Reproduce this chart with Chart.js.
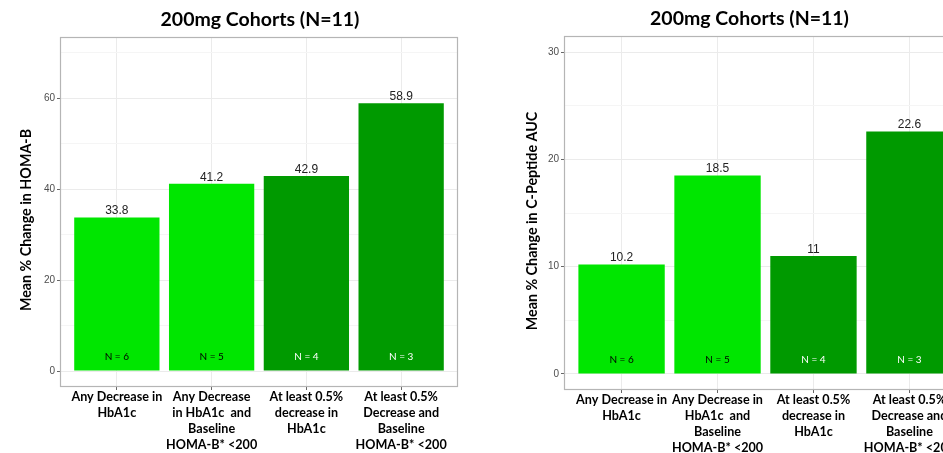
<!DOCTYPE html>
<html><head><meta charset="utf-8">
<script src="https://cdn.jsdelivr.net/npm/chart.js@4"></script>
<style>
html,body{margin:0;padding:0;background:#fff;overflow:hidden;width:943px;height:453px;}
#wrap{position:relative;width:943px;height:453px;overflow:hidden;background:#fff;}
canvas{position:absolute;top:0;}
</style></head><body>
<div id="wrap">
<canvas id="c1" width="520" height="453" style="left:0px"></canvas>
<canvas id="c2" width="559" height="453" style="left:470px"></canvas>
</div>
<script>
// ---- data ----
const chartTitle = '200mg Cohorts (N=11)';
const categories = [
  'Any Decrease in HbA1c',
  'Any Decrease in HbA1c and Baseline HOMA-B* <200',
  'At least 0.5% decrease in HbA1c',
  'At least 0.5% Decrease and Baseline HOMA-B* <200'
];
const leftTickLabels = [
  ['Any Decrease in', 'HbA1c'],
  ['Any Decrease', 'in HbA1c  and', 'Baseline', 'HOMA-B* <200'],
  ['At least 0.5%', 'decrease in', 'HbA1c'],
  ['At least 0.5%', 'Decrease and', 'Baseline', 'HOMA-B* <200']
];
const rightTickLabels = [
  ['Any Decrease in', 'HbA1c'],
  ['Any Decrease in', 'HbA1c  and', 'Baseline', 'HOMA-B* <200'],
  ['At least 0.5%', 'decrease in', 'HbA1c'],
  ['At least 0.5%', 'Decrease and', 'Baseline', 'HOMA-B* <200']
];
const homaBChange = [33.8, 41.2, 42.9, 58.9];
const cPeptideChange = [10.2, 18.5, 11, 22.6];
const nLabels = ['N = 6', 'N = 5', 'N = 4', 'N = 3'];
const leftYTicks = [0, 10, 20, 30, 40, 50, 60, 70];
const leftYMajor = 20;
const rightYTicks = [0, 5, 10, 15, 20, 25, 30];
const rightYMajor = 10;
const leftYTitle = 'Mean % Change in HOMA-B';
const rightYTitle = 'Mean % Change in C-Peptide AUC';

// ---- styles ----
const barColors = ['#00e600', '#00e600', '#009a00', '#009a00'];
const nLabelColors = ['#000000', '#000000', '#ffffff', '#ffffff'];
const FONT = 'Lato, "Open Sans", sans-serif';

const annotPlugin = {
  id: 'annot',
  afterDatasetsDraw(chart, args, opts) {
    const ctx = chart.ctx;
    const meta = chart.getDatasetMeta(0);
    const y0 = chart.scales.y.getPixelForValue(0);
    const vals = chart.data.datasets[0].data;
    meta.data.forEach((bar, i) => {
      ctx.save();
      ctx.font = '12px "Liberation Sans", Arial, sans-serif';
      ctx.fillStyle = '#222';
      ctx.textAlign = 'center';
      ctx.textBaseline = 'alphabetic';
      ctx.fillText(String(vals[i].y), bar.x, bar.y - 3);
      ctx.font = '10px ' + FONT;
      ctx.fillStyle = nLabelColors[i];
      ctx.textBaseline = 'middle';
      ctx.fillText(nLabels[i], bar.x, y0 - 14);
      ctx.restore();
    });
    const a = chart.chartArea;
    ctx.save();
    ctx.strokeStyle = '#b5b5b5';
    ctx.lineWidth = 1.2;
    ctx.strokeRect(a.left + 0.5, a.top + 0.5, a.right - a.left - 1, a.bottom - a.top - 1);
    // y-axis title
    ctx.translate(opts.titleX, (a.top + a.bottom) / 2 + opts.titleDy);
    ctx.rotate(-Math.PI / 2);
    ctx.font = 'bold 14.3px ' + FONT;
    ctx.fillStyle = '#000';
    ctx.textAlign = 'center';
    ctx.textBaseline = 'middle';
    ctx.fillText(opts.title, 0, 0);
    ctx.restore();
  }
};

function makeChart(id, values, tickLabels, yTicks, yMajor, yMin, yMax, yTitle, cfg) {
  return new Chart(document.getElementById(id), {
    type: 'bar',
    data: {
      datasets: [{
        data: values.map((v, i) => ({ x: i, y: v })),
        backgroundColor: barColors,
        borderWidth: 0,
        barPercentage: 0.9,
        categoryPercentage: 1.0
      }]
    },
    options: {
      responsive: false,
      animation: false,
      devicePixelRatio: 1,
      layout: { padding: 0 },
      plugins: {
        legend: { display: false },
        tooltip: { enabled: false },
        annot: { title: yTitle, titleX: cfg.yTitleX, titleDy: 8 },
        title: {
          display: true,
          text: chartTitle,
          color: '#000',
          font: { family: FONT, size: 19.5, weight: 'bold', lineHeight: 24 / 19.5 },
          padding: { top: cfg.titleTop, bottom: 5 }
        }
      },
      scales: {
        x: {
          type: 'linear',
          offset: false,
          min: -0.6,
          max: 3.6,
          afterBuildTicks: s => { s.ticks = categories.map((c, i) => ({ value: i })); },
          afterFit: s => { s.height = cfg.xHeight; },
          border: { display: false },
          grid: { color: '#ebebeb', lineWidth: 1, offset: false, drawTicks: true, tickLength: 3, tickColor: '#666' },
          ticks: {
            autoSkip: false, maxRotation: 0, minRotation: 0, padding: -1,
            color: '#000',
            font: { family: FONT, size: 12.6, weight: 'bold', lineHeight: 16 / 12.6 },
            callback: v => tickLabels[v]
          }
        },
        y: {
          min: yMin,
          max: yMax,
          afterBuildTicks: s => { s.ticks = yTicks.map(v => ({ value: v })); },
          afterFit: s => { s.width = cfg.yWidth; },
          border: { display: false },
          grid: {
            color: c => (c.tick && c.tick.value % yMajor === 0) ? '#ebebeb' : '#f5f5f5',
            lineWidth: 1,
            drawTicks: true,
            tickLength: 3,
            tickColor: c => (c.tick && c.tick.value % yMajor === 0) ? '#666' : 'rgba(0,0,0,0)'
          },
          ticks: {
            padding: 2,
            color: '#4d4d4d',
            font: { family: '"Liberation Sans", Arial, sans-serif', size: 10 },
            callback: v => (v % yMajor === 0 ? String(v) : '')
          },
          title: { display: false }
        },
        spacer: {
          type: 'linear',
          position: 'right',
          display: true,
          afterFit: s => { s.width = cfg.padRight; },
          border: { display: false },
          grid: { display: false, drawTicks: false },
          ticks: { display: false }
        }
      }
    },
    plugins: [annotPlugin]
  });
}

makeChart('c1', homaBChange, leftTickLabels, leftYTicks, leftYMajor, -3.5, 73.5, leftYTitle,
  { padRight: 62, titleTop: 8, xHeight: 66, yWidth: 60, yTitleX: 26 });
makeChart('c2', cPeptideChange, rightTickLabels, rightYTicks, rightYMajor, -1.5, 31.5, rightYTitle,
  { padRight: 62, titleTop: 7, xHeight: 63, yWidth: 94, yTitleX: 62 });
</script>
</body></html>
